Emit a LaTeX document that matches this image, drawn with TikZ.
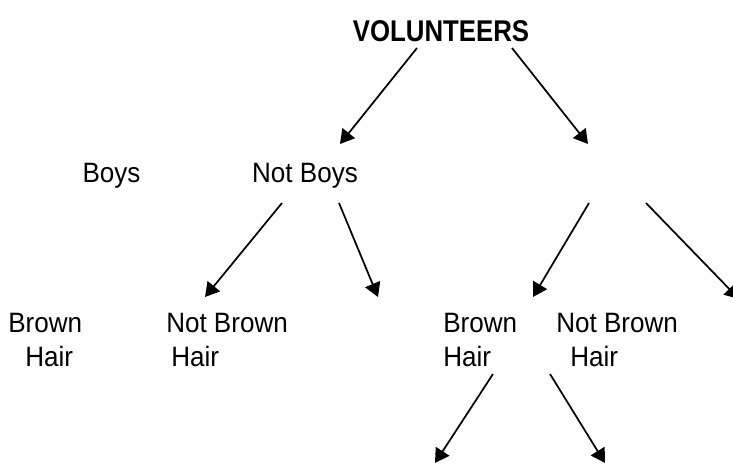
\documentclass[tikz,border=0pt]{standalone}
\usepackage{fontspec}
\setmainfont{Liberation Sans}[FakeStretch=0.93]
\newfontfamily\volfont{Liberation Sans}[FakeStretch=0.86]
\usetikzlibrary{arrows.meta,calc}
\begin{document}
\begin{tikzpicture}[x=0.75pt, y=-0.75pt]
	\tikzstyle{every node}=[inner sep=0pt, font=\fontsize{21}{25.5}\selectfont]
	\tikzstyle{link}=[line width=1.3pt, -{Triangle[length=10.5pt, width=12pt]}]
	\useasboundingbox (0, 0) rectangle (733, 466);
	\node[anchor=base, font=\fontsize{22.5}{25.5}\volfont\bfseries] (V) at (441, 41.5) {VOLUNTEERS};
	\node[anchor=base] (B) at (111.5, 183) {Boys};
	\node[anchor=base] (NB) at (305, 183) {Not Boys};
	\node[anchor=base west, align=left] (BH1) at (8, 367) {Brown\\\hspace*{12.75pt}Hair};
	\node[anchor=base west, align=left] (NBH1) at (166, 367) {Not Brown\\\hspace*{3.75pt}Hair};
	\node[anchor=base west, align=left] (BH2) at (443, 367) {Brown\\Hair};
	\node[anchor=base west, align=left] (NBH2) at (556, 367) {Not Brown\\\hspace*{10.5pt}Hair};
	% blank ends
	\coordinate (G1) at (588, 144);
	\coordinate (G2) at (378, 297);
	\coordinate (G3) at (739, 299);
	\coordinate (G4) at (435, 463);
	\coordinate (G5) at (605, 463);
	\draw[link] ($(V.base)+(-24, 6.5)$) -- ($(NB.base)+(35, -39)$);
	\draw[link] ($(V.base)+(71, 6.5)$) -- (G1);
	\draw[link] ($(NB.base)+(-23, 20)$) -- ($(NBH1.base west)+(39, -70)$);
	\draw[link] ($(NB.base)+(34, 20)$) -- (G2);
	\draw[link] ($(G1)+(1, 59)$) -- ($(BH2.base west)+(90, -70)$);
	\draw[link] ($(G1)+(58, 59)$) -- (G3);
	\draw[link] ($(BH2.base west)+(50, 7)$) -- (G4);
	\draw[link] ($(BH2.base west)+(107, 7)$) -- (G5);
\end{tikzpicture}
\end{document}
